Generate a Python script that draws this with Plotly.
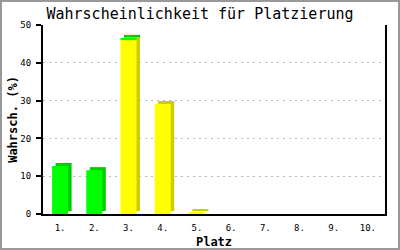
import plotly.graph_objects as go

platz = ["1.", "2.", "3.", "4.", "5.", "6.", "7.", "8.", "9.", "10."]
gruen = [12.7, 11.6, 0.6, 0, 0, 0, 0, 0, 0, 0]
gelb = [0, 0, 46.0, 29.1, 0.4, 0, 0, 0, 0, 0]
y_ticks = [0, 10, 20, 30, 40, 50]

W, H = 400, 250
ML, MR, MT, MB = 43, 15, 25, 36
pw = W - ML - MR
ph = H - MT - MB
n = len(platz)
unit_x = pw / n
ymax = 50
unit_y = ph / ymax

bw = 16 / unit_x
dx = 3.5 / unit_x
dy = 3 / unit_y

GREEN, GREEN_D = "#00ff00", "#00cc00"
YEL, YEL_D = "#ffff00", "#cccc00"
mono = "DejaVu Sans Mono, Liberation Mono, monospace"

fig = go.Figure()
# depth (side/top) faces
fig.add_bar(x=platz, y=gelb, base=[dy] * n, width=bw, offset=-bw / 2 + dx,
            marker=dict(color=YEL_D, line=dict(width=0)), hoverinfo="skip")
fig.add_bar(x=platz, y=gruen, base=[g + dy for g in gelb], width=bw, offset=-bw / 2 + dx,
            marker=dict(color=GREEN_D, line=dict(width=0)), hoverinfo="skip")
# front faces
fig.add_bar(x=platz, y=gelb, base=[0] * n, width=bw, offset=-bw / 2,
            marker=dict(color=YEL, line=dict(width=0)))
fig.add_bar(x=platz, y=gruen, base=gelb, width=bw, offset=-bw / 2,
            marker=dict(color=GREEN, line=dict(width=0)))

fig.update_layout(
    width=W, height=H, barmode="overlay", showlegend=False,
    margin=dict(l=ML, r=MR, t=MT, b=MB, autoexpand=False),
    paper_bgcolor="white", plot_bgcolor="white",
    title=dict(text="Wahrscheinlichkeit für Platzierung", x=0.5, xref="container",
               y=1 - 14 / H, yref="container", yanchor="middle", xanchor="center",
               font=dict(family=mono, size=15, color="black")),
    xaxis=dict(type="category", range=[-0.5, n - 0.5], showline=True, linecolor="black",
               linewidth=2, ticks="", showgrid=False, zeroline=False, ticklabelstandoff=4,
               automargin=False,
               tickfont=dict(family=mono, size=9, color="black"),
               title=dict(text="Platz", font=dict(family=mono, size=12, color="black", weight="bold"),
                          standoff=6)),
    yaxis=dict(range=[0, ymax], tickvals=y_ticks, showline=True, linecolor="black",
               linewidth=2, mirror=True, ticks="outside", ticklen=5, tickcolor="black",
               tickwidth=2, showgrid=True, gridcolor="#bbbbbb", griddash="2px,4px", gridwidth=1,
               zeroline=False, automargin=False, ticklabelstandoff=3,
               tickfont=dict(family=mono, size=9, color="black"),
               title=dict(text="Wahrsch. (%)", font=dict(family=mono, size=12, color="black", weight="bold"),
                          standoff=0)),
    shapes=[dict(type="rect", xref="paper", yref="paper",
                 x0=-ML / pw + 1 / pw, x1=1 + (MR - 1) / pw,
                 y0=-MB / ph + 1 / ph, y1=1 + (MT - 1) / ph,
                 line=dict(color="#999999", width=2), fillcolor="rgba(0,0,0,0)", layer="below")],
)
fig.write_html("out.html")
